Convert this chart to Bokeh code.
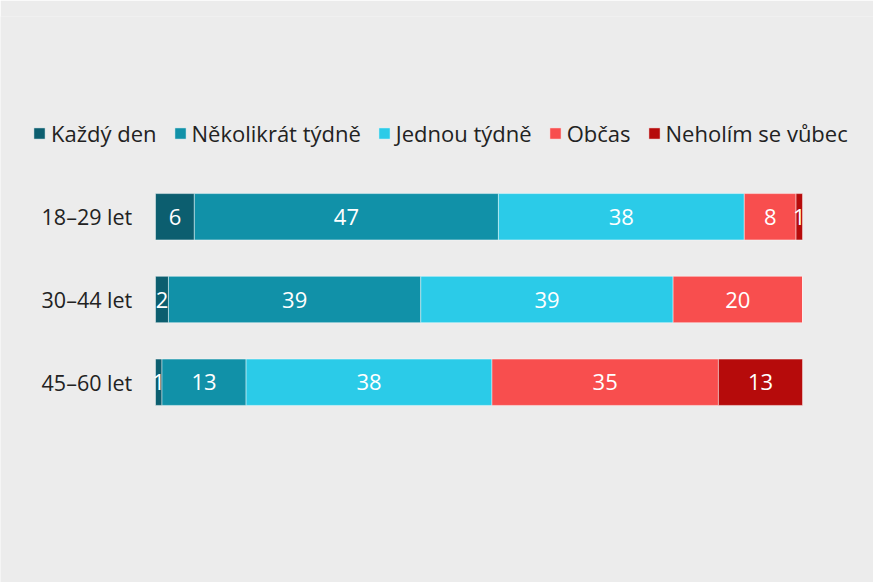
from bokeh.plotting import figure
from bokeh.models import ColumnDataSource, Legend, LegendItem
from bokeh.core.properties import value
from bokeh.embed import file_html
from bokeh.resources import INLINE

categories = ["18–29 let", "30–44 let", "45–60 let"]
series = ["Každý den", "Několikrát týdně", "Jednou týdně", "Občas", "Neholím se vůbec"]
kazdy_den = [6, 2, 1]
nekolikrat = [47, 39, 13]
jednou = [38, 39, 38]
obcas = [8, 20, 35]
neholim = [1, 0, 13]
colors = ["#0c5e6f", "#1191a8", "#2bcbe8", "#f84e4e", "#b60b0b"]

FONT = "Open Sans"

data = {"cat": categories}
keys = ["s0", "s1", "s2", "s3", "s4"]
for k, vals in zip(keys, [kazdy_den, nekolikrat, jednou, obcas, neholim]):
    data[k] = vals
source = ColumnDataSource(data)

# frame spans whole width; 0 -> 155px, 100 -> 802px
p = figure(width=873, height=582, y_range=list(reversed(categories)),
           x_range=(-23.96, 110.97),
           output_backend="svg", toolbar_location=None,
           min_border_left=0, min_border_right=0, min_border_top=16, min_border_bottom=0)
p.y_range.range_padding = 1.92
p.y_range.range_padding_units = "absolute"
p.background_fill_color = "#ececec"
p.border_fill_color = "#ececec"
p.outline_line_color = None
p.grid.visible = False
p.xaxis.visible = False
p.yaxis.visible = False

renderers = p.hbar_stack(keys, y="cat", height=0.56, color=colors, source=source,
                         line_color="white", line_alpha=0.45, line_width=1)

# value labels
lx, ly, lt = [], [], []
for i, c in enumerate(categories):
    cum = 0
    for vals in [kazdy_den, nekolikrat, jednou, obcas, neholim]:
        v = vals[i]
        if v > 0:
            lx.append(cum + v / 2)
            ly.append(c)
            lt.append(str(v))
        cum += v
p.text(x=lx, y=ly, text=lt, text_align="center", text_baseline="middle",
       text_color="white", text_font=value(FONT), text_font_size="22px")

# category labels
p.text(x=[-3.6] * len(categories), y=categories, text=categories,
       text_align="right", text_baseline="middle",
       text_color="#222222", text_font=value(FONT), text_font_size="21.5px")

items = [LegendItem(label=s, renderers=[r]) for s, r in zip(series, renderers)]
legend = Legend(items=items, orientation="horizontal", location=(32, 434),
                padding=0, margin=0, spacing=16, label_standoff=5,
                glyph_width=14, glyph_height=14,
                label_text_font=FONT, label_text_font_size="22px",
                label_text_color="#222222", label_height=14,
                background_fill_alpha=0, border_line_color=None)
p.add_layout(legend, "center")

open("out.html", "w").write(file_html(p, INLINE))
